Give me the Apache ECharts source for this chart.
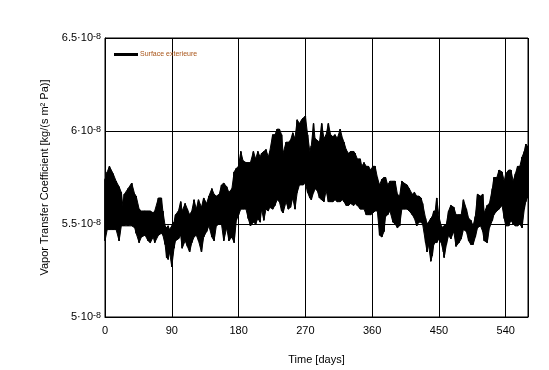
<!DOCTYPE html>
<html>
<head>
<meta charset="utf-8">
<script src="https://cdn.jsdelivr.net/npm/echarts@6/dist/echarts.min.js"></script>
<style>html,body{margin:0;padding:0;background:#fff}#c{width:549px;height:370px}</style>
</head>
<body>
<div id="c"></div>
<script>
// Time samples (days) and the upper / lower envelope of the daily oscillation,
// values in units of 1e-8 kg/(s m² Pa)
const days = [0,3,6,11,15,19,22,24,26,31,36,40,42,46,49,54,58,61,65,67,72,76,78,81,83,85,87,90,93,95,99,102,104,108,111,114,117,120,123,126,130,133,137,140,144,147,150,154,157,160,164,167,171,174,177,180,183,
186,190,193,196,200,203,206,209,211,214,217,220,222,226,229,232,235,238,240,244,247,250,253,256,259,262,265,267,270,273,276,278,281,283,286,289,292,295,298,301,304,307,310,313,317,320,322,325,328,331,335,337,340,344,346,349,352,355,358,361,364,367,370,373,
376,378,381,384,388,391,394,397,400,403,407,410,414,417,420,423,426,428,432,434,436,439,441,443,445,447,450,453,456,457,460,463,466,470,473,477,480,483,487,490,493,496,499,502,506,509,511,515,518,522,524,528,531,535,538,540,544,547,550,553,556,559,562,565,567,569];
const upper = [5.74,5.78,5.81,5.77,5.73,5.70,5.67,5.60,5.66,5.69,5.72,5.66,5.65,5.58,5.57,5.57,5.57,5.57,5.56,5.57,5.64,5.64,5.57,5.49,5.48,5.49,5.47,5.49,5.51,5.55,5.57,5.62,5.57,5.61,5.58,5.55,5.57,5.63,5.58,5.63,5.59,5.64,5.61,5.65,5.69,5.66,5.65,5.66,5.71,5.72,5.70,5.67,5.69,5.78,5.80,5.81,5.89,
5.84,5.83,5.83,5.83,5.89,5.85,5.89,5.86,5.88,5.89,5.90,5.86,5.89,5.98,5.98,6.01,6.01,5.98,5.88,5.94,5.94,5.95,5.99,5.96,6.06,6.04,6.06,6.07,6.08,5.98,5.89,5.92,6.04,5.96,5.95,5.94,6.04,5.96,5.98,6.04,5.98,5.97,5.98,5.96,6.01,5.96,5.94,5.90,5.88,5.89,5.89,5.88,5.85,5.85,5.81,5.83,5.81,5.81,5.79,5.81,5.81,5.75,5.71,5.74,
5.75,5.75,5.71,5.73,5.73,5.73,5.66,5.65,5.73,5.72,5.71,5.69,5.66,5.67,5.65,5.65,5.64,5.61,5.53,5.50,5.51,5.53,5.54,5.57,5.57,5.64,5.54,5.49,5.48,5.49,5.50,5.57,5.60,5.59,5.55,5.55,5.55,5.63,5.58,5.53,5.52,5.49,5.54,5.66,5.65,5.66,5.56,5.60,5.61,5.69,5.75,5.75,5.79,5.78,5.73,5.77,5.79,5.79,5.73,5.77,5.81,5.81,5.86,5.89,5.93,5.92];
const lower = [5.41,5.47,5.47,5.47,5.47,5.41,5.49,5.49,5.49,5.49,5.49,5.48,5.45,5.40,5.43,5.44,5.41,5.40,5.43,5.40,5.44,5.45,5.44,5.39,5.32,5.31,5.35,5.27,5.37,5.41,5.42,5.44,5.37,5.41,5.38,5.35,5.40,5.43,5.44,5.41,5.35,5.43,5.46,5.49,5.43,5.41,5.49,5.50,5.50,5.41,5.48,5.41,5.43,5.40,5.52,5.55,5.58,
5.58,5.58,5.53,5.49,5.51,5.50,5.53,5.51,5.58,5.52,5.58,5.57,5.59,5.58,5.60,5.63,5.62,5.57,5.56,5.62,5.58,5.59,5.64,5.58,5.67,5.71,5.71,5.71,5.72,5.67,5.64,5.63,5.67,5.69,5.68,5.64,5.63,5.62,5.68,5.62,5.62,5.62,5.63,5.62,5.62,5.63,5.62,5.60,5.60,5.61,5.60,5.61,5.60,5.58,5.58,5.58,5.55,5.55,5.55,5.56,5.57,5.57,5.44,5.43,
5.46,5.54,5.55,5.57,5.51,5.50,5.48,5.49,5.58,5.58,5.58,5.57,5.55,5.53,5.49,5.51,5.51,5.50,5.40,5.35,5.39,5.30,5.33,5.39,5.40,5.40,5.42,5.40,5.35,5.32,5.39,5.44,5.42,5.46,5.38,5.40,5.42,5.47,5.46,5.41,5.39,5.39,5.43,5.48,5.49,5.46,5.41,5.40,5.48,5.52,5.55,5.57,5.58,5.60,5.53,5.49,5.49,5.52,5.50,5.49,5.49,5.50,5.48,5.58,5.62,5.64];
const xTicks = [0, 90, 180, 270, 360, 450, 540];
const yTicks = ['5', '5.5', '6', '6.5'];
const seriesName = 'Surface exterieure';

// band segments between consecutive samples (filled between the envelopes)
const segments = [];
for (let i = 0; i < days.length - 1; i++) {
  segments.push([days[i], upper[i], lower[i], days[i + 1], upper[i + 1], lower[i + 1]]);
}
// zigzag between the envelopes, drawn as the line series itself
const zigzag = [];
for (let i = 0; i < days.length; i++) {
  zigzag.push([days[i], upper[i]]);
  zigzag.push([days[i], lower[i]]);
}

const chart = echarts.init(document.getElementById('c'), null, {renderer: 'canvas'});
const font = 'Liberation Sans, Arial, sans-serif';
chart.setOption({
  backgroundColor: '#fff',
  animation: false,
  textStyle: {fontFamily: font},
  grid: {left: 105, right: 21, top: 38, bottom: 51, show: true, borderColor: '#000', borderWidth: 1, backgroundColor: 'transparent'},
  legend: {
    data: [seriesName], left: 114, top: 51, padding: 0,
    icon: 'rect', itemWidth: 24, itemHeight: 3, itemGap: 4,
    textStyle: {fontSize: 7, color: '#a85418', fontFamily: font, padding: [0,0,0,-3]},
    itemStyle: {color: '#000'}
  },
  xAxis: {
    type: 'value', min: 0, max: 570, interval: 90,
    name: 'Time [days]', nameLocation: 'middle', nameGap: 37,
    nameTextStyle: {fontSize: 11, color: '#000', fontFamily: font},
    axisLine: {show: true, lineStyle: {color: '#000', width: 1}},
    axisTick: {show: false},
    axisLabel: {fontSize: 11, color: '#000', margin: 8, fontFamily: font,
      formatter: v => xTicks.indexOf(v) >= 0 ? String(v) : ''},
    splitLine: {show: true, lineStyle: {color: '#000', width: 1}}
  },
  yAxis: {
    type: 'value', min: 5, max: 6.5, interval: 0.5,
    name: 'Vapor Transfer Coefficient [kg/(s m\u00b2 Pa)]', nameLocation: 'middle', nameGap: 55, nameRotate: 90,
    nameTextStyle: {fontSize: 11, color: '#000', fontFamily: font},
    axisLine: {show: true, lineStyle: {color: '#000', width: 1}},
    axisTick: {show: false},
    axisLabel: {
      margin: 4, fontFamily: font,
      formatter: v => {
        const s = yTicks.find(t => Math.abs(parseFloat(t) - v) < 1e-9);
        return s ? '{m|' + s + '\u00b710}{s|-8}' : '';
      },
      rich: {
        m: {fontSize: 11, color: '#000', fontFamily: font, lineHeight: 12, verticalAlign: 'middle'},
        s: {fontSize: 9, color: '#000', fontFamily: font, lineHeight: 12, verticalAlign: 'top', padding: [0,0,6,0]}
      }
    },
    splitLine: {show: true, lineStyle: {color: '#000', width: 1}}
  },
  series: [
    {
      name: 'band', type: 'custom', data: segments, silent: true,
      encode: {x: [0, 3], y: [1, 2, 4, 5]},
      renderItem: (params, api) => {
        const p1 = api.coord([api.value(0), api.value(1)]);
        const p2 = api.coord([api.value(3), api.value(4)]);
        const p3 = api.coord([api.value(3), api.value(5)]);
        const p4 = api.coord([api.value(0), api.value(2)]);
        return {type: 'polygon', shape: {points: [p1, p2, p3, p4]},
          style: {fill: '#000', stroke: '#000', lineWidth: 1}};
      }
    },
    {
      name: seriesName, type: 'line', data: zigzag,
      showSymbol: false, symbol: 'none',
      lineStyle: {color: '#000', width: 1.5},
      itemStyle: {color: '#000'}
    }
  ]
});
</script>
</body>
</html>
